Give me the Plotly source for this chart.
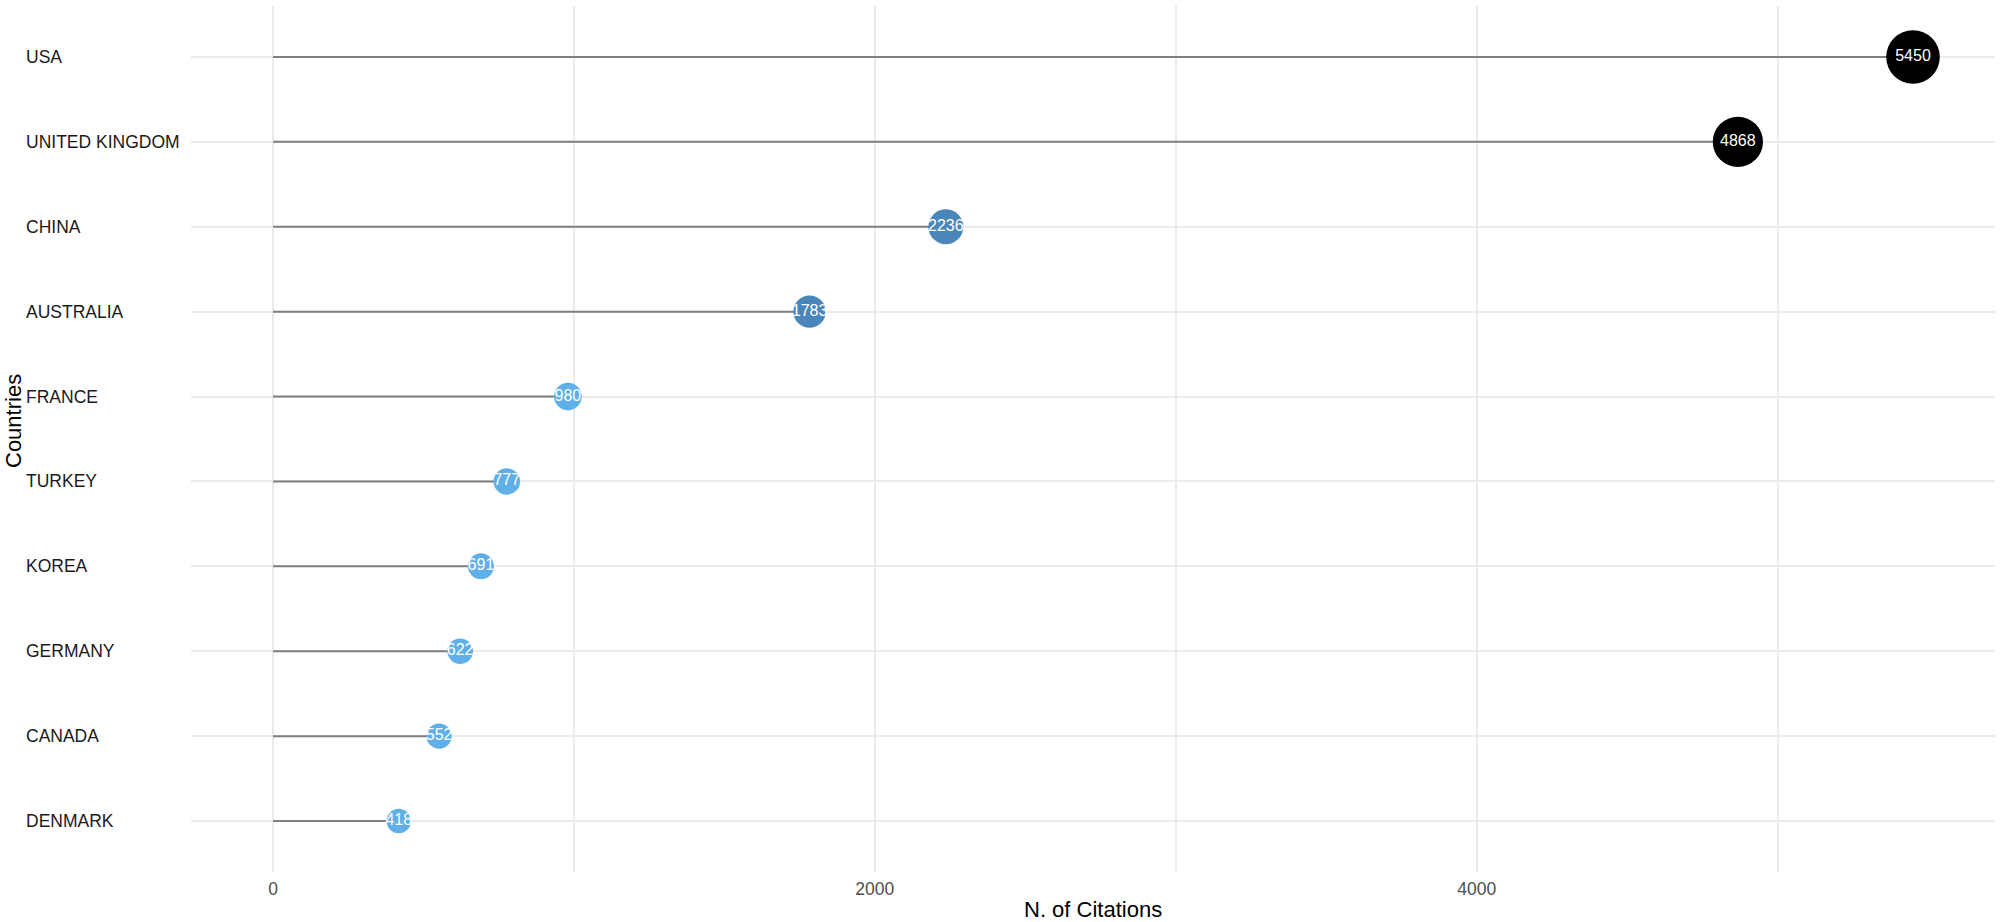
import plotly.graph_objects as go

countries = ["USA", "UNITED KINGDOM", "CHINA", "AUSTRALIA", "FRANCE",
             "TURKEY", "KOREA", "GERMANY", "CANADA", "DENMARK"]
citations = [5450, 4868, 2236, 1783, 980, 777, 691, 622, 552, 418]
x_ticks = [0, 2000, 4000]
x_title = "N. of Citations"
y_title = "Countries"

FONT = "Liberation Sans, Arial, sans-serif"

PLOT_TOP, PLOT_BOTTOM = 6, 872
PLOT_LEFT, PLOT_RIGHT = 191, 1995
PH = PLOT_BOTTOM - PLOT_TOP
PW = PLOT_RIGHT - PLOT_LEFT

def point_color(v):
    if v >= 4000:
        return "#000000"
    if v >= 1500:
        return "#4A86BA"
    return "#5FAFE8"

def point_size(v):
    return 22 + 0.0058 * v

# segments
seg_x, seg_y = [], []
for c, v in zip(countries, citations):
    seg_x += [0, v, None]
    seg_y += [c, c, None]

fig = go.Figure()
fig.add_trace(go.Scatter(x=seg_x, y=seg_y, mode="lines",
                         line=dict(color="#7f7f7f", width=2),
                         hoverinfo="skip", showlegend=False))
fig.add_trace(go.Scatter(
    x=citations, y=countries, mode="markers+text",
    marker=dict(size=[point_size(v) for v in citations],
                color=[point_color(v) for v in citations],
                line=dict(width=0), opacity=1),
    text=[str(v) for v in citations], textposition="middle center",
    textfont=dict(family=FONT, size=16, color="white"),
    showlegend=False))

x_min = -0.05 * max(citations)
x_max = max(citations) * 1.05
fig.update_layout(
    width=2000, height=922,
    margin=dict(l=PLOT_LEFT, r=2000 - PLOT_RIGHT, t=PLOT_TOP, b=922 - PLOT_BOTTOM),
    paper_bgcolor="white", plot_bgcolor="white",
    font=dict(family=FONT, color="#333333"),
    xaxis=dict(range=[x_min, x_max], tickvals=x_ticks,
               ticktext=[str(t) for t in x_ticks],
               showgrid=True, gridcolor="#ebebeb", gridwidth=2,
               zeroline=False, showline=False,
               ticks="outside", ticklen=1, tickcolor="rgba(0,0,0,0)",
               tickfont=dict(family=FONT, size=17.5, color="#4d4d4d"),
               minor=dict(tickvals=[1000, 3000, 5000], showgrid=True,
                          gridcolor="#ebebeb", gridwidth=1.6)),
    yaxis=dict(type="category", categoryorder="array",
               categoryarray=countries[::-1], range=[-0.6, 9.6],
               showgrid=True, gridcolor="#ebebeb", gridwidth=2,
               zeroline=False, showline=False, showticklabels=False),
)

annotations = []
for c in countries:
    annotations.append(dict(x=(24 - PLOT_LEFT) / PW, xref="paper", y=c, yref="y",
                            text=c, showarrow=False, xanchor="left",
                            yanchor="middle",
                            font=dict(family=FONT, size=17.5, color="#1a1a1a")))
annotations.append(dict(x=(14 - PLOT_LEFT) / PW, xref="paper",
                        y=(PLOT_BOTTOM - 421) / PH,
                        yref="paper", text=y_title, textangle=-90,
                        showarrow=False, xanchor="center", yanchor="middle",
                        font=dict(family=FONT, size=22, color="black")))
annotations.append(dict(x=0.5, xref="paper", y=(PLOT_BOTTOM - 924) / PH,
                        yref="paper", text=x_title, showarrow=False,
                        xanchor="center", yanchor="bottom",
                        font=dict(family=FONT, size=22, color="black")))
fig.update_layout(annotations=annotations)

fig.write_html("out.html", config={"displayModeBar": False},
               post_script="document.body.style.margin='0';"
                           "document.body.style.overflow='hidden';")
